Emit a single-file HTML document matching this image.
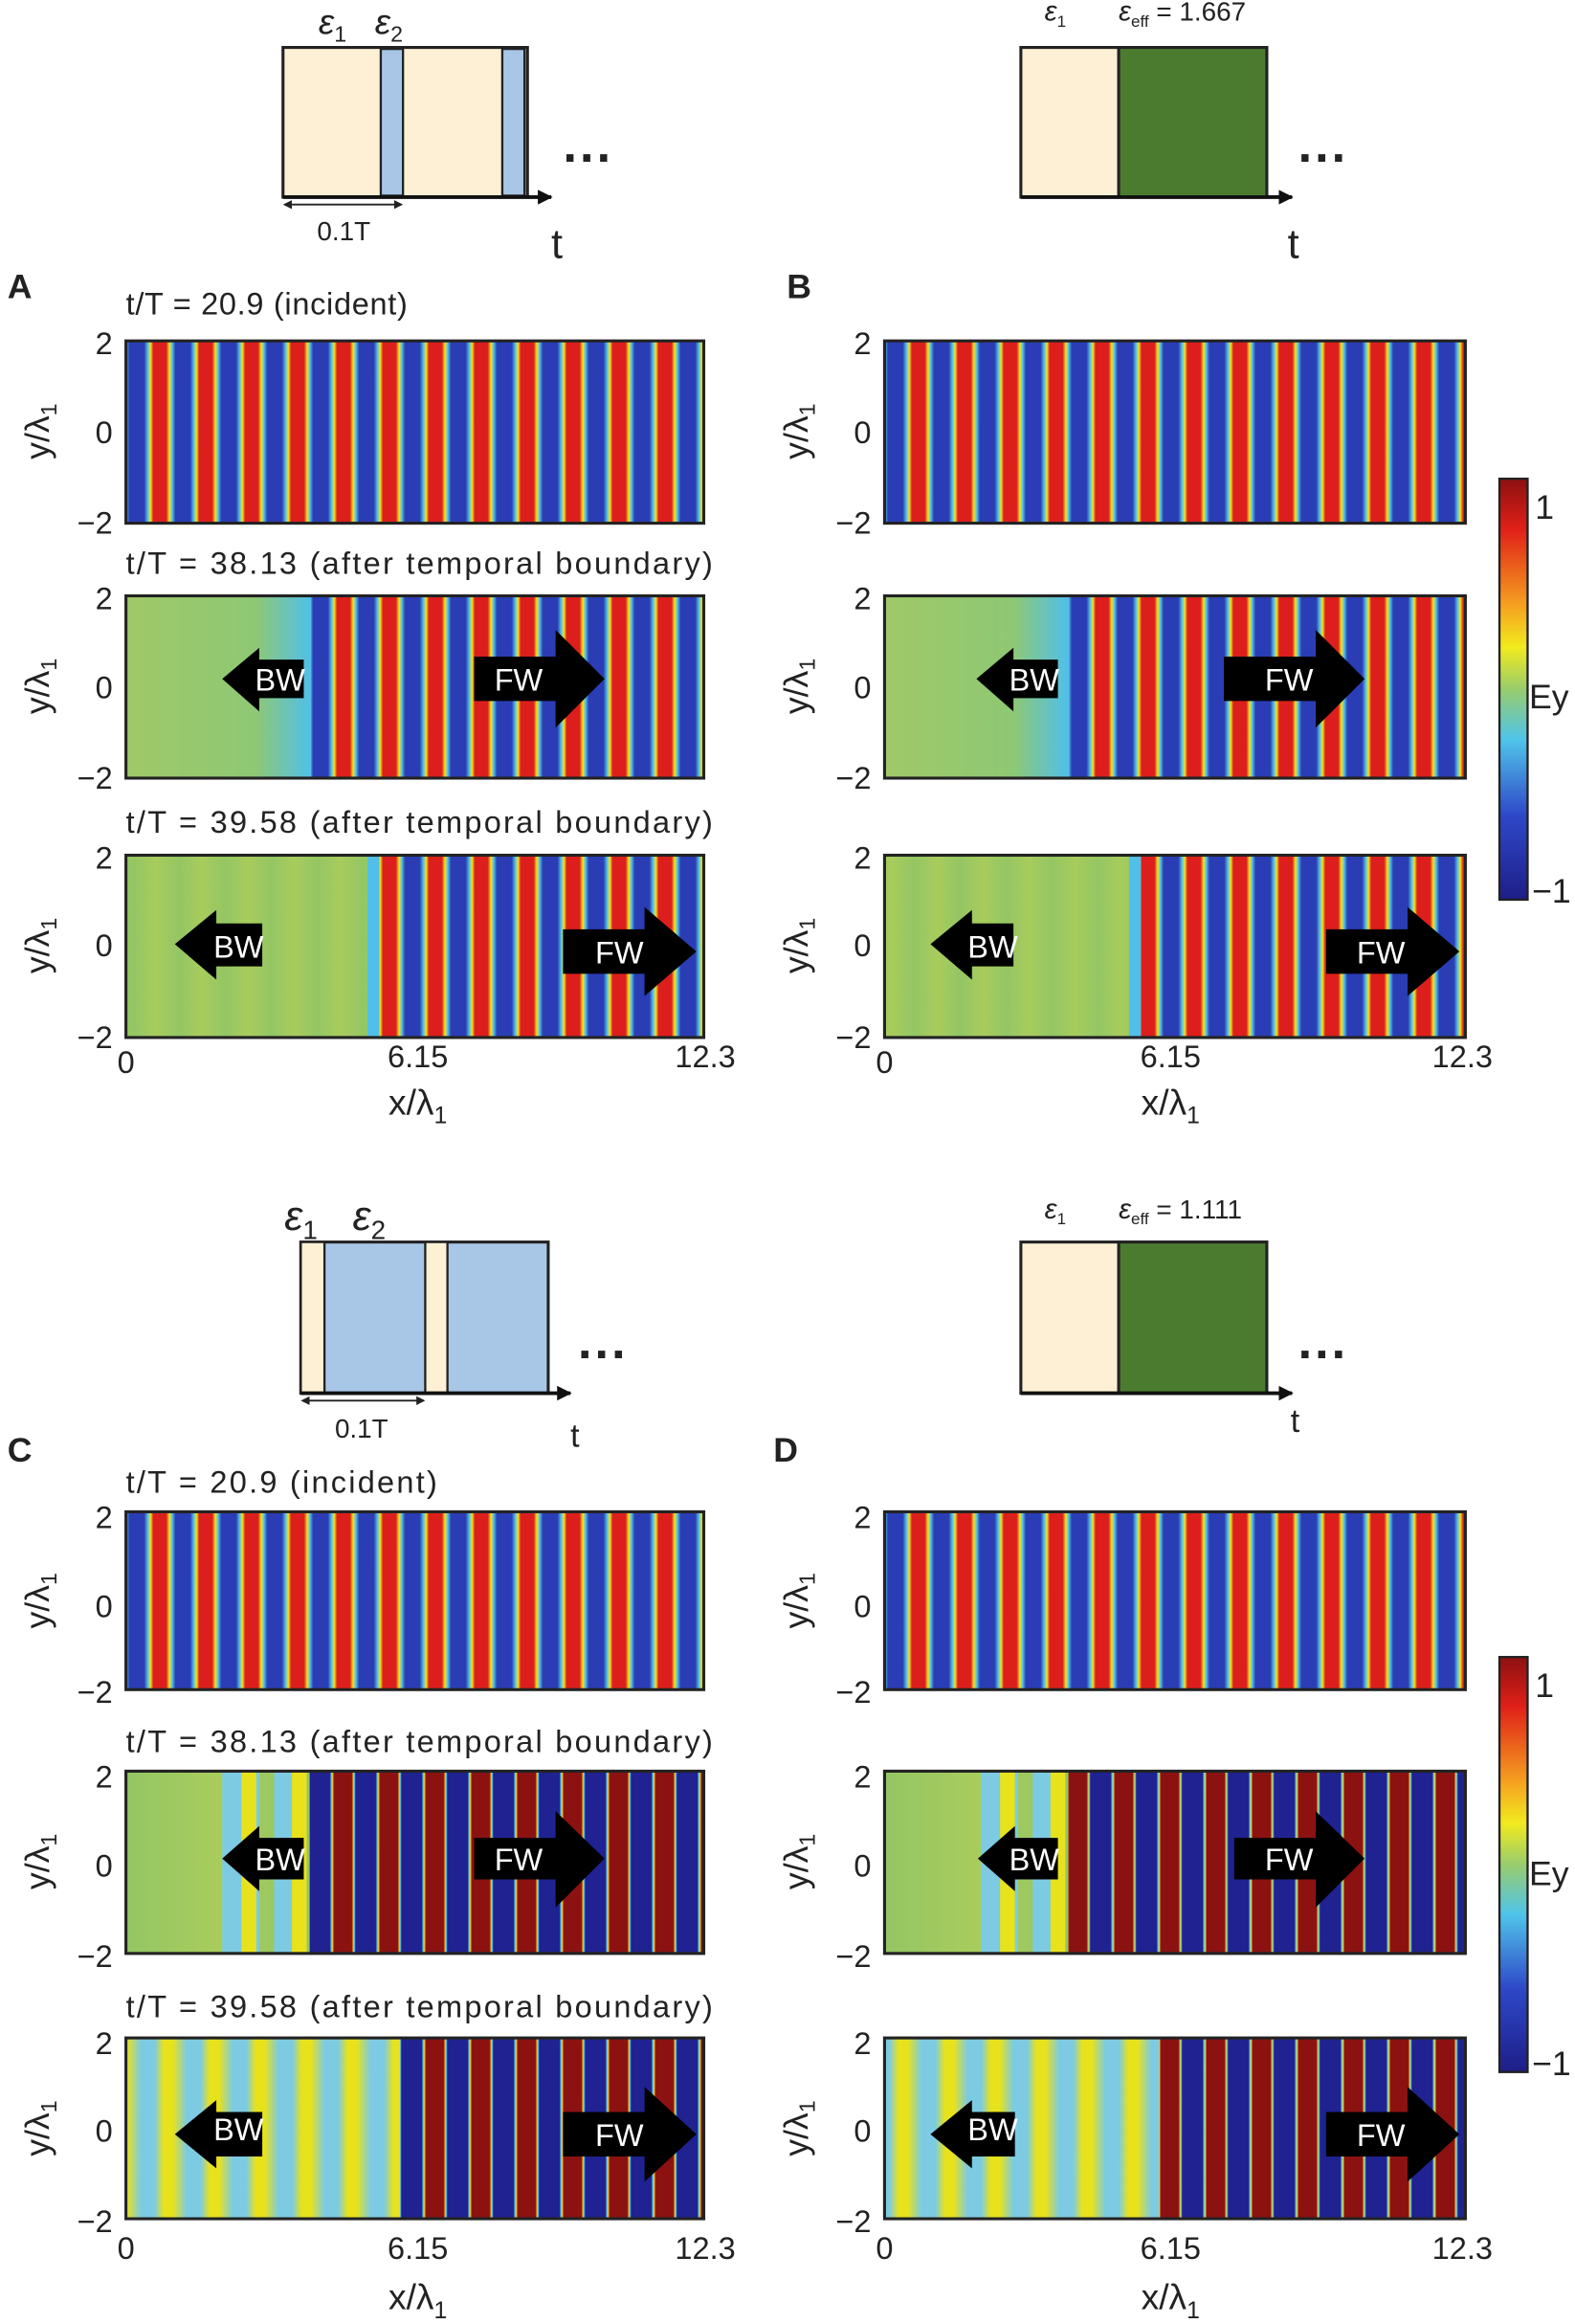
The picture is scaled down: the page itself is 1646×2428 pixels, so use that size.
<!DOCTYPE html>
<html><head><meta charset="utf-8"><style>html,body{margin:0;padding:0;background:#fff}svg{display:block}text{font-family:"Liberation Sans",sans-serif;fill:#222}</style></head><body>
<svg width="1646" height="2428" viewBox="0 0 1063 1568" xmlns="http://www.w3.org/2000/svg">
<defs>
<linearGradient id="gs" x1="0" x2="1" y1="0" y2="0">
<stop offset="0" stop-color="#2b3db4"/><stop offset="0.3" stop-color="#2b3db4"/><stop offset="0.38" stop-color="#52c4ea"/><stop offset="0.44" stop-color="#f2e41e"/><stop offset="0.5" stop-color="#dc1f1c"/><stop offset="0.78" stop-color="#dc1f1c"/><stop offset="0.85" stop-color="#f2e41e"/><stop offset="0.91" stop-color="#52c4ea"/><stop offset="0.98" stop-color="#2b3db4"/><stop offset="1" stop-color="#2b3db4"/>
</linearGradient>
<linearGradient id="gd" x1="0" x2="1" y1="0" y2="0">
<stop offset="0" stop-color="#1f2290"/><stop offset="0.44" stop-color="#1f2290"/><stop offset="0.47" stop-color="#5ac8ee"/><stop offset="0.5" stop-color="#f0d020"/><stop offset="0.53" stop-color="#8c1212"/><stop offset="0.92" stop-color="#8c1212"/><stop offset="0.95" stop-color="#f0d020"/><stop offset="0.975" stop-color="#5ac8ee"/><stop offset="1" stop-color="#1f2290"/>
</linearGradient>
<linearGradient id="gy" x1="0" x2="1" y1="0" y2="0">
<stop offset="0" stop-color="#7ccbe2"/><stop offset="0.3" stop-color="#7ccbe2"/><stop offset="0.5" stop-color="#e8e21c"/><stop offset="0.7" stop-color="#e8e21c"/><stop offset="1" stop-color="#7ccbe2"/>
</linearGradient>
<linearGradient id="gg" x1="0" x2="1" y1="0" y2="0">
<stop offset="0" stop-color="#94c664"/><stop offset="0.5" stop-color="#a8cc5c"/><stop offset="1" stop-color="#94c664"/>
</linearGradient>
<pattern id="ps" patternUnits="userSpaceOnUse" width="31" height="10" x="88"><rect width="31" height="10" fill="url(#gs)"/></pattern>
<pattern id="ps2" patternUnits="userSpaceOnUse" width="31" height="10" x="600"><rect width="31" height="10" fill="url(#gs)"/></pattern>
<pattern id="pd" patternUnits="userSpaceOnUse" width="31" height="10" x="85"><rect width="31" height="10" fill="url(#gd)"/></pattern>
<pattern id="py" patternUnits="userSpaceOnUse" width="31" height="10" x="95"><rect width="31" height="10" fill="url(#gy)"/></pattern>
<pattern id="pg" patternUnits="userSpaceOnUse" width="31" height="10" x="90"><rect width="31" height="10" fill="url(#gg)"/></pattern>
<linearGradient id="cb" x1="0" x2="0" y1="0" y2="1">
<stop offset="0" stop-color="#8c1010"/><stop offset="0.12" stop-color="#e02018"/><stop offset="0.3" stop-color="#f5a020"/><stop offset="0.4" stop-color="#f2ea1e"/><stop offset="0.5" stop-color="#98cc6c"/><stop offset="0.62" stop-color="#50c4ea"/><stop offset="0.8" stop-color="#2e48c8"/><stop offset="1" stop-color="#1e1e88"/>
</linearGradient>
<linearGradient id="trA" x1="0" x2="1"><stop offset="0" stop-color="#a0c868"/><stop offset="0.7" stop-color="#8ec874"/><stop offset="1" stop-color="#50c0ea"/></linearGradient>
<marker id="ar" markerWidth="10" markerHeight="10" refX="9" refY="5" orient="auto" markerUnits="userSpaceOnUse"><path d="M0,0 L10,5 L0,10z" fill="#111"/></marker>
<marker id="sa" markerWidth="6" markerHeight="6" refX="5" refY="3" orient="auto-start-reverse" markerUnits="userSpaceOnUse"><path d="M0,0 L6,3 L0,6z" fill="#222"/></marker>
</defs>

<!-- ===== schematic A ===== -->
<rect x="191" y="32" width="165" height="101" fill="#fdf0d4" stroke="#222" stroke-width="2"/>
<rect x="257" y="33" width="15" height="99" fill="#a8c6e6" stroke="#222" stroke-width="1.5"/>
<rect x="339" y="33" width="15" height="99" fill="#a8c6e6" stroke="#222" stroke-width="1.5"/>
<line x1="191" y1="133" x2="372" y2="133" stroke="#111" stroke-width="2.5" marker-end="url(#ar)"/>
<line x1="192" y1="138" x2="271" y2="138" stroke="#222" stroke-width="1.2" marker-start="url(#sa)" marker-end="url(#sa)"/>
<text x="232" y="162" font-size="18" text-anchor="middle">0.1T</text>
<text x="380" y="118" font-size="34" font-weight="bold">···</text>
<text x="372" y="174" font-size="28">t</text>
<text x="215" y="23" font-size="24" font-style="italic" font-family="Liberation Serif">ε<tspan font-size="15" dy="5" font-style="normal">1</tspan></text>
<text x="253" y="23" font-size="24" font-style="italic" font-family="Liberation Serif">ε<tspan font-size="15" dy="5" font-style="normal">2</tspan></text>

<!-- ===== schematic B ===== -->
<rect x="689" y="32" width="166" height="101" fill="#fdf0d4" stroke="#222" stroke-width="2"/>
<rect x="755" y="32" width="100" height="101" fill="#4b7b2f" stroke="#222" stroke-width="2"/>
<line x1="689" y1="133" x2="872" y2="133" stroke="#111" stroke-width="2.5" marker-end="url(#ar)"/>
<text x="876" y="118" font-size="34" font-weight="bold">···</text>
<text x="869" y="174" font-size="28">t</text>
<text x="705" y="14" font-size="19" font-style="italic" font-family="Liberation Serif">ε<tspan font-size="11" dy="4" font-style="normal">1</tspan></text>
<text x="755" y="14" font-size="19" font-style="italic" font-family="Liberation Serif">ε<tspan font-size="11" dy="4" font-style="normal">eff</tspan><tspan font-style="normal" font-family="Liberation Sans" font-size="18" dy="-4"> = 1.667</tspan></text>

<!-- ===== schematic C ===== -->
<rect x="203" y="838" width="167" height="102" fill="#a8c6e6" stroke="#222" stroke-width="2"/>
<rect x="203" y="838" width="16" height="102" fill="#fdf0d4" stroke="#222" stroke-width="1.5"/>
<rect x="287" y="838" width="15" height="102" fill="#fdf0d4" stroke="#222" stroke-width="1.5"/>
<line x1="203" y1="940" x2="385" y2="940" stroke="#111" stroke-width="2.5" marker-end="url(#ar)"/>
<line x1="204" y1="945" x2="286" y2="945" stroke="#222" stroke-width="1.2" marker-start="url(#sa)" marker-end="url(#sa)"/>
<text x="244" y="970" font-size="18" text-anchor="middle">0.1T</text>
<text x="390" y="925" font-size="34" font-weight="bold">···</text>
<text x="385" y="976" font-size="22">t</text>
<text x="192" y="830" font-size="28" font-style="italic" font-family="Liberation Serif">ε<tspan font-size="18" dy="6" font-style="normal">1</tspan></text>
<text x="238" y="830" font-size="28" font-style="italic" font-family="Liberation Serif">ε<tspan font-size="18" dy="6" font-style="normal">2</tspan></text>

<!-- ===== schematic D ===== -->
<rect x="689" y="838" width="166" height="102" fill="#fdf0d4" stroke="#222" stroke-width="2"/>
<rect x="755" y="838" width="100" height="102" fill="#4b7b2f" stroke="#222" stroke-width="2"/>
<line x1="689" y1="940" x2="872" y2="940" stroke="#111" stroke-width="2.5" marker-end="url(#ar)"/>
<text x="876" y="925" font-size="34" font-weight="bold">···</text>
<text x="871" y="966" font-size="22">t</text>
<text x="705" y="822" font-size="19" font-style="italic" font-family="Liberation Serif">ε<tspan font-size="11" dy="4" font-style="normal">1</tspan></text>
<text x="755" y="822" font-size="19" font-style="italic" font-family="Liberation Serif">ε<tspan font-size="11" dy="4" font-style="normal">eff</tspan><tspan font-style="normal" font-family="Liberation Sans" font-size="18" dy="-4"> = 1.111</tspan></text>

<!-- panel letters -->
<g font-size="23" font-weight="bold"><text x="5" y="201">A</text><text x="531" y="201">B</text><text x="5" y="986">C</text><text x="522" y="986">D</text></g>

<!-- titles -->
<g font-size="21">
<text x="85" y="212" textLength="190">t/T = 20.9 (incident)</text>
<text x="85" y="387" textLength="396">t/T = 38.13 (after temporal boundary)</text>
<text x="85" y="562" textLength="396">t/T = 39.58 (after temporal boundary)</text>
<text x="85" y="1007" textLength="210">t/T = 20.9 (incident)</text>
<text x="85" y="1182" textLength="396">t/T = 38.13 (after temporal boundary)</text>
<text x="85" y="1361" textLength="396">t/T = 39.58 (after temporal boundary)</text>
</g>

<!-- ===== A panels ===== -->
<rect x="85" y="230" width="390" height="123" fill="url(#ps)"/>
<rect x="85" y="402" width="390" height="123" fill="url(#ps)"/>
<rect x="85" y="402" width="125" height="123" fill="url(#trA)"/>
<rect x="85" y="577" width="390" height="123" fill="url(#ps)"/>
<rect x="85" y="577" width="170" height="123" fill="url(#pg)"/>
<rect x="248" y="577" width="8" height="123" fill="#50c0ea"/>
<!-- B panels -->
<rect x="597" y="230" width="392" height="123" fill="url(#ps2)"/>
<rect x="597" y="402" width="392" height="123" fill="url(#ps2)"/>
<rect x="597" y="402" width="124" height="123" fill="url(#trA)"/>
<rect x="597" y="577" width="392" height="123" fill="url(#ps2)"/>
<rect x="597" y="577" width="172" height="123" fill="url(#pg)"/>
<rect x="762" y="577" width="8" height="123" fill="#50c0ea"/>
<!-- C panels -->
<rect x="85" y="1020" width="390" height="120" fill="url(#ps)"/>
<rect x="85" y="1195" width="390" height="123" fill="url(#pd)"/>
<rect x="85" y="1195" width="124" height="123" fill="url(#gg)"/>
<rect x="150" y="1195" width="25" height="123" fill="#7ccbe2"/>
<rect x="163" y="1195" width="10" height="123" fill="#e8e21c"/>
<rect x="185" y="1195" width="12" height="123" fill="#7ccbe2"/>
<rect x="197" y="1195" width="10" height="123" fill="#e8e21c"/>
<rect x="85" y="1375" width="390" height="122" fill="url(#pd)"/>
<rect x="85" y="1375" width="185" height="122" fill="url(#py)"/>
<!-- D panels -->
<rect x="597" y="1020" width="392" height="120" fill="url(#ps2)"/>
<rect x="597" y="1195" width="392" height="123" fill="url(#pd)"/>
<rect x="597" y="1195" width="124" height="123" fill="url(#gg)"/>
<rect x="662" y="1195" width="25" height="123" fill="#7ccbe2"/>
<rect x="675" y="1195" width="10" height="123" fill="#e8e21c"/>
<rect x="697" y="1195" width="12" height="123" fill="#7ccbe2"/>
<rect x="709" y="1195" width="10" height="123" fill="#e8e21c"/>
<rect x="597" y="1375" width="392" height="122" fill="url(#pd)"/>
<rect x="597" y="1375" width="185" height="122" fill="url(#py)"/>

<!-- panel borders -->
<g fill="none" stroke="#222" stroke-width="2">
<rect x="85" y="230" width="390" height="123"/><rect x="85" y="402" width="390" height="123"/><rect x="85" y="577" width="390" height="123"/>
<rect x="597" y="230" width="392" height="123"/><rect x="597" y="402" width="392" height="123"/><rect x="597" y="577" width="392" height="123"/>
<rect x="85" y="1020" width="390" height="120"/><rect x="85" y="1195" width="390" height="123"/><rect x="85" y="1375" width="390" height="122"/>
<rect x="597" y="1020" width="392" height="120"/><rect x="597" y="1195" width="392" height="123"/><rect x="597" y="1375" width="392" height="122"/>
</g>

<!-- arrows -->
<g fill="#000">
<path d="M150,458 L175,437 L175,445 L205,445 L205,471 L175,471 L175,480z"/>
<path d="M320,443 L375,443 L375,425 L408,458 L375,491 L375,473 L320,473z"/>
<path d="M118,637 L146,614 L146,623 L177,623 L177,652 L146,652 L146,661z"/>
<path d="M380,627 L435,627 L435,612 L470,642 L435,672 L435,657 L380,657z"/>
<path d="M659,458 L684,437 L684,445 L714,445 L714,471 L684,471 L684,480z"/>
<path d="M826,443 L888,443 L888,425 L921,458 L888,491 L888,473 L826,473z"/>
<path d="M628,637 L656,614 L656,623 L684,623 L684,652 L656,652 L656,661z"/>
<path d="M895,627 L950,627 L950,612 L985,642 L950,672 L950,657 L895,657z"/>
<path d="M150,1254 L175,1232 L175,1240 L205,1240 L205,1268 L175,1268 L175,1276z"/>
<path d="M320,1240 L375,1240 L375,1222 L408,1254 L375,1287 L375,1268 L320,1268z"/>
<path d="M118,1440 L146,1417 L146,1425 L177,1425 L177,1455 L146,1455 L146,1463z"/>
<path d="M380,1425 L435,1425 L435,1408 L470,1440 L435,1472 L435,1455 L380,1455z"/>
<path d="M660,1254 L685,1232 L685,1240 L714,1240 L714,1268 L685,1268 L685,1276z"/>
<path d="M833,1240 L888,1240 L888,1222 L921,1254 L888,1287 L888,1268 L833,1268z"/>
<path d="M628,1440 L656,1417 L656,1425 L685,1425 L685,1455 L656,1455 L656,1463z"/>
<path d="M895,1425 L950,1425 L950,1408 L985,1440 L950,1472 L950,1455 L895,1455z"/>
</g>
<g font-size="21" text-anchor="middle">
<text x="189" y="466" style="fill:#fff">BW</text><text x="350" y="466" style="fill:#fff">FW</text>
<text x="161" y="646" style="fill:#fff">BW</text><text x="418" y="650" style="fill:#fff">FW</text>
<text x="698" y="466" style="fill:#fff">BW</text><text x="870" y="466" style="fill:#fff">FW</text>
<text x="670" y="646" style="fill:#fff">BW</text><text x="932" y="650" style="fill:#fff">FW</text>
<text x="189" y="1262" style="fill:#fff">BW</text><text x="350" y="1262" style="fill:#fff">FW</text>
<text x="161" y="1444" style="fill:#fff">BW</text><text x="418" y="1448" style="fill:#fff">FW</text>
<text x="698" y="1262" style="fill:#fff">BW</text><text x="870" y="1262" style="fill:#fff">FW</text>
<text x="670" y="1444" style="fill:#fff">BW</text><text x="932" y="1448" style="fill:#fff">FW</text>
</g>

<!-- y tick labels -->
<g font-size="21" text-anchor="end">
<text x="76" y="239">2</text><text x="76" y="299">0</text><text x="76" y="360">−2</text>
<text x="76" y="411">2</text><text x="76" y="471">0</text><text x="76" y="532">−2</text>
<text x="76" y="586">2</text><text x="76" y="645">0</text><text x="76" y="707">−2</text>
<text x="588" y="239">2</text><text x="588" y="299">0</text><text x="588" y="360">−2</text>
<text x="588" y="411">2</text><text x="588" y="471">0</text><text x="588" y="532">−2</text>
<text x="588" y="586">2</text><text x="588" y="645">0</text><text x="588" y="707">−2</text>
<text x="76" y="1031">2</text><text x="76" y="1091">0</text><text x="76" y="1149">−2</text>
<text x="76" y="1206">2</text><text x="76" y="1266">0</text><text x="76" y="1327">−2</text>
<text x="76" y="1386">2</text><text x="76" y="1445">0</text><text x="76" y="1506">−2</text>
<text x="588" y="1031">2</text><text x="588" y="1091">0</text><text x="588" y="1149">−2</text>
<text x="588" y="1206">2</text><text x="588" y="1266">0</text><text x="588" y="1327">−2</text>
<text x="588" y="1386">2</text><text x="588" y="1445">0</text><text x="588" y="1506">−2</text>
</g>
<!-- y axis titles -->
<g font-size="23" text-anchor="middle">
<text transform="translate(33,291) rotate(-90)">y/λ<tspan font-size="15" dy="5">1</tspan></text>
<text transform="translate(33,463) rotate(-90)">y/λ<tspan font-size="15" dy="5">1</tspan></text>
<text transform="translate(33,638) rotate(-90)">y/λ<tspan font-size="15" dy="5">1</tspan></text>
<text transform="translate(545,291) rotate(-90)">y/λ<tspan font-size="15" dy="5">1</tspan></text>
<text transform="translate(545,463) rotate(-90)">y/λ<tspan font-size="15" dy="5">1</tspan></text>
<text transform="translate(545,638) rotate(-90)">y/λ<tspan font-size="15" dy="5">1</tspan></text>
<text transform="translate(33,1080) rotate(-90)">y/λ<tspan font-size="15" dy="5">1</tspan></text>
<text transform="translate(33,1256) rotate(-90)">y/λ<tspan font-size="15" dy="5">1</tspan></text>
<text transform="translate(33,1436) rotate(-90)">y/λ<tspan font-size="15" dy="5">1</tspan></text>
<text transform="translate(545,1080) rotate(-90)">y/λ<tspan font-size="15" dy="5">1</tspan></text>
<text transform="translate(545,1256) rotate(-90)">y/λ<tspan font-size="15" dy="5">1</tspan></text>
<text transform="translate(545,1436) rotate(-90)">y/λ<tspan font-size="15" dy="5">1</tspan></text>
</g>
<!-- x ticks -->
<g font-size="21" text-anchor="middle">
<text x="85" y="724">0</text><text x="282" y="720">6.15</text><text x="476" y="720">12.3</text>
<text x="597" y="724">0</text><text x="790" y="720">6.15</text><text x="987" y="720">12.3</text>
<text x="85" y="1524">0</text><text x="282" y="1524">6.15</text><text x="476" y="1524">12.3</text>
<text x="597" y="1524">0</text><text x="790" y="1524">6.15</text><text x="987" y="1524">12.3</text>
</g>
<g font-size="24" text-anchor="middle">
<text x="282" y="752">x/λ<tspan font-size="16" dy="6">1</tspan></text>
<text x="790" y="752">x/λ<tspan font-size="16" dy="6">1</tspan></text>
<text x="282" y="1558">x/λ<tspan font-size="16" dy="6">1</tspan></text>
<text x="790" y="1558">x/λ<tspan font-size="16" dy="6">1</tspan></text>
</g>

<!-- colorbars -->
<rect x="1012" y="323" width="19" height="284" fill="url(#cb)" stroke="#222" stroke-width="1.5"/>
<rect x="1012" y="1118" width="19" height="280" fill="url(#cb)" stroke="#222" stroke-width="1.5"/>
<g font-size="23">
<text x="1036" y="350">1</text><text x="1032" y="478">Ey</text><text x="1034" y="609">−1</text>
<text x="1036" y="1145">1</text><text x="1032" y="1272">Ey</text><text x="1034" y="1400">−1</text>
</g>
</svg>
</body></html>
